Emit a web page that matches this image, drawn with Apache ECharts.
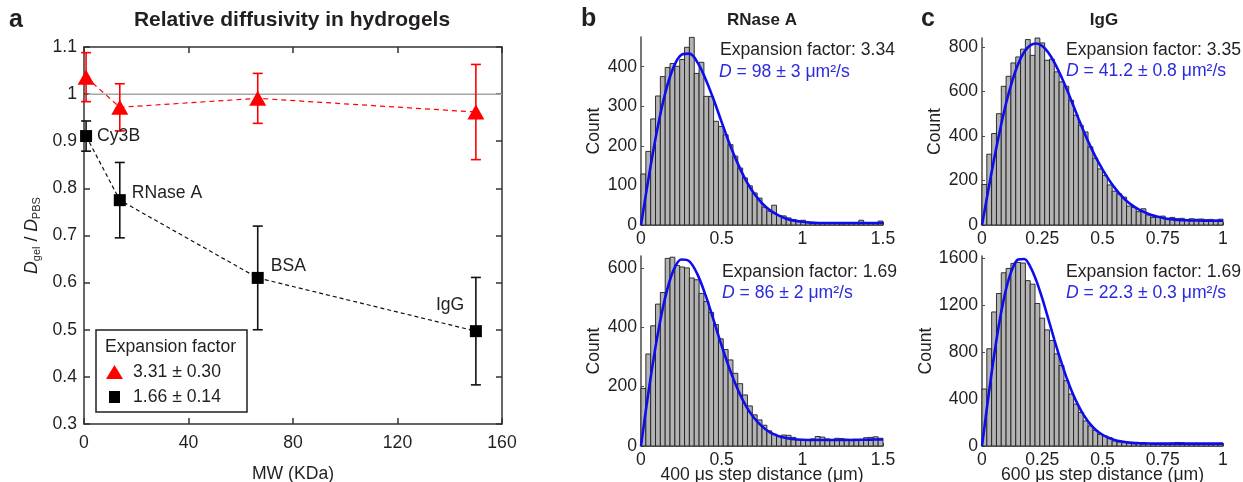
<!DOCTYPE html>
<html>
<head>
<meta charset="utf-8">
<script src="https://cdn.jsdelivr.net/npm/echarts@6/dist/echarts.min.js"></script>
<style>
  html, body { margin: 0; padding: 0; background: #fff; }
  #chart { width: 1243px; height: 482px; }
</style>
</head>
<body>
<div id="chart"></div>
<script>
// ---------- panel a: relative diffusivity vs molecular weight ----------
const probes = ['Cy3B', 'RNase A', 'BSA', 'IgG'];
const molWeight = [0.8, 13.7, 66.5, 150];          // KDa
const ratioHighEF = [1.036, 0.972, 0.991, 0.962];   // expansion factor 3.31
const errHighEF = [0.052, 0.050, 0.053, 0.101];
const ratioLowEF = [0.911, 0.775, 0.610, 0.497];    // expansion factor 1.66
const errLowEF = [0.032, 0.080, 0.110, 0.114];
const legendNames = ['3.31 ± 0.30', '1.66 ± 0.14'];
const unityLine = [[1.5, 1], [160, 1]];
const aXTicks = [0, 40, 80, 120, 160];
const aYTicks = [0.3, 0.4, 0.5, 0.6, 0.7, 0.8, 0.9, 1, 1.1];

// ---------- panels b, c: step-distance histograms ----------
const bBinWidth = 0.03;   // µm
const cBinWidth = 0.02;   // µm
const bTopCounts = [129,186,268,326,375,398,408,401,418,449,474,383,411,325,325,262,249,228,203,174,
                    144,119,99,81,68,45,35,50,24,23,18,14,10,12,7,5,6,4,5,6,4,3,5,4,5,12,4,5,4,10];
const bBotCounts = [194,310,405,478,517,632,636,608,603,600,566,560,514,487,450,409,361,325,290,245,
                    210,172,135,105,88,70,51,40,32,37,36,29,21,22,22,24,32,30,24,22,26,25,23,22,20,22,28,29,31,26];
const cTopCounts = [182,318,411,500,623,668,728,755,790,833,762,840,818,740,745,688,643,623,560,493,
                    448,418,351,300,252,222,180,152,140,125,85,79,60,73,45,34,34,40,30,34,28,30,25,28,26,27,24,25,22,26];
const cBotCounts = [486,829,1143,1300,1477,1514,1557,1565,1560,1410,1380,1215,1090,990,900,786,686,557,443,357,
                    286,214,171,134,100,86,71,43,34,29,24,20,26,18,20,16,18,22,14,24,30,28,16,14,12,16,14,12,20,18];

// fitted step-distance distributions
const bFitR = [0,0.05,0.1,0.15,0.2,0.25,0.3,0.35,0.4,0.45,0.5,0.55,0.6,0.65,0.7,0.75,0.8,0.85,0.9,0.95,
               1,1.05,1.1,1.15,1.2,1.25,1.3,1.35,1.4,1.45,1.5];
const bTopFit = [0,126,240,333,397,430,433,411,369,317,260,204,155,113,80,55,37,25,16,11,8,6,5,5,5,5,5,5,5,5,5];
const bBotFit = [0,195,365,500,590,628,622,578,508,424,338,258,190,135,95,66,46,34,27,23,21,20,20,20,20,20,20,21,21,22,22];
const cFitR = [0,0.025,0.05,0.075,0.1,0.125,0.15,0.175,0.2,0.225,0.25,0.275,0.3,0.325,0.35,0.375,0.4,0.425,0.45,0.475,
               0.5,0.525,0.55,0.575,0.6,0.625,0.65,0.675,0.7,0.725,0.75,0.775,0.8,0.825,0.85,0.875,0.9,0.925,0.95,0.975,1];
const cTopFit = [0,150,295,428,547,645,723,777,807,815,804,775,731,676,614,547,479,413,353,298,
                 250,206,168,135,108,87,70,57,46,38,32,27,24,22,21,20,20,19,19,19,19];
const cBotFit = [0,398,769,1089,1339,1506,1590,1595,1530,1412,1258,1085,908,740,587,455,345,255,185,133,
                 96,70,52,40,32,27,24,22,21,20,20,20,20,20,20,20,20,20,20,20,20];

const bXTicks = [0, 0.5, 1, 1.5];
const cXTicks = [0, 0.25, 0.5, 0.75, 1];
const bTopYTicks = [0, 100, 200, 300, 400];
const bBotYTicks = [0, 200, 400, 600];
const cTopYTicks = [0, 200, 400, 600, 800];
const cBotYTicks = [0, 400, 800, 1200, 1600];

const panelTexts = {
  bTop: ['Expansion factor: 3.34', '98 ± 3'],
  bBot: ['Expansion factor: 1.69', '86 ± 2'],
  cTop: ['Expansion factor: 3.35', '41.2 ± 0.8'],
  cBot: ['Expansion factor: 1.69', '22.3 ± 0.3']
};

// ---------- styling ----------
const FONT = '"Liberation Sans", Arial, Helvetica, sans-serif';
const INK = '#231f20';
const RED = '#ff0000';
const BLUE = '#0d0dee';
const TEXT_BLUE = '#2a2ade';
const FS = 17.6;

const chart = echarts.init(document.getElementById('chart'));

const plainNumber = v => String(+v.toFixed(4));

function boxAxis(gridIndex, ticks, isY, position, showLabel, formatter) {
  const ax = {
    type: 'value', gridIndex, position,
    min: ticks[0], max: ticks[ticks.length - 1],
    interval: ticks[1] - ticks[0],
    splitLine: { show: false },
    axisLine: { show: true, onZero: false, lineStyle: { color: '#333', width: 1.5 } },
    axisTick: { show: true, inside: true, length: 6, lineStyle: { color: '#333', width: 1.5 } },
    axisLabel: { show: showLabel, fontSize: FS, color: INK, fontFamily: FONT, margin: isY ? 7 : 10 }
  };
  if (formatter) ax.axisLabel.formatter = formatter;
  return ax;
}

function histXAxis(gridIndex, ticks, name) {
  const ax = {
    type: 'value', gridIndex,
    min: ticks[0], max: ticks[ticks.length - 1], interval: ticks[1] - ticks[0],
    splitLine: { show: false },
    axisLine: { onZero: false, lineStyle: { color: '#4a4a4a', width: 1.5 } },
    axisTick: { show: true, inside: true, length: 3, lineStyle: { color: '#4a4a4a' } },
    axisLabel: { fontSize: FS, color: INK, fontFamily: FONT, margin: 5, formatter: plainNumber }
  };
  if (name) {
    ax.name = name; ax.nameLocation = 'middle'; ax.nameGap = 20; ax.nameMoveOverlap = false;
    ax.nameTextStyle = { fontSize: FS, color: INK, fontFamily: FONT };
  }
  return ax;
}

function histYAxis(gridIndex, ticks, max) {
  return {
    type: 'value', gridIndex, min: 0, max, interval: ticks[1] - ticks[0],
    splitLine: { show: false },
    axisLine: { show: true, lineStyle: { color: '#4a4a4a', width: 1.5 } },
    axisTick: { show: true, inside: true, length: 3, lineStyle: { color: '#4a4a4a' } },
    axisLabel: { fontSize: FS, color: INK, fontFamily: FONT, margin: 4, showMaxLabel: false, formatter: plainNumber },
    name: 'Count', nameLocation: 'middle', nameGap: 38,
    nameTextStyle: { fontSize: FS, color: INK, fontFamily: FONT }
  };
}

function histSeries(counts, width, axisIndex) {
  return {
    type: 'custom', xAxisIndex: axisIndex, yAxisIndex: axisIndex, z: 2,
    data: counts.map((c, i) => [i * width, (i + 1) * width, c]),
    renderItem: (params, api) => {
      const p0 = api.coord([api.value(0), 0]);
      const p1 = api.coord([api.value(1), api.value(2)]);
      return {
        type: 'rect',
        shape: { x: p0[0], y: p1[1], width: p1[0] - p0[0], height: p0[1] - p1[1] },
        style: { fill: '#b3b3b3', stroke: '#1e1e1e', lineWidth: 0.9 }
      };
    }
  };
}

function fitSeries(rs, vals, axisIndex) {
  return {
    type: 'line', xAxisIndex: axisIndex, yAxisIndex: axisIndex, z: 4,
    data: rs.map((r, i) => [r, vals[i]]),
    symbol: 'none', smooth: 0.35, clip: false,
    lineStyle: { color: BLUE, width: 2.6 }
  };
}

function errorSeries(xs, ys, errs, color) {
  return {
    type: 'custom', xAxisIndex: 0, yAxisIndex: 0, z: 2,
    data: xs.map((x, i) => [x, ys[i] - errs[i], ys[i] + errs[i]]),
    renderItem: (params, api) => {
      const top = api.coord([api.value(0), api.value(2)]);
      const bot = api.coord([api.value(0), api.value(1)]);
      const w = 5;
      const st = { stroke: color, lineWidth: 1.6 };
      return {
        type: 'group', children: [
          { type: 'line', shape: { x1: top[0], y1: top[1], x2: bot[0], y2: bot[1] }, style: st },
          { type: 'line', shape: { x1: top[0] - w, y1: top[1], x2: top[0] + w, y2: top[1] }, style: st },
          { type: 'line', shape: { x1: bot[0] - w, y1: bot[1], x2: bot[0] + w, y2: bot[1] }, style: st }
        ]
      };
    }
  };
}

// label placement relative to each square marker
const probeLabelOffset = [[17, 6], [18, -1], [19, -6], [-34, -20]];

function text(x, y, str, extra) {
  return {
    type: 'text', x, y, z: 10,
    style: Object.assign({ text: str, fontSize: FS, fontFamily: FONT, fill: INK, align: 'left', verticalAlign: 'middle' }, extra)
  };
}
function diffText(x, y, val) {
  return text(x, y, '{i|D} = ' + val + ' μm²/s', {
    fill: TEXT_BLUE,
    rich: { i: { fontStyle: 'italic', fontSize: FS, fontFamily: FONT, fill: TEXT_BLUE } }
  });
}

const aYFormatter = v => (Math.abs(v - 1) < 1e-9 ? '1' : v.toFixed(1));

const gridBase = { containLabel: false, outerBoundsMode: 'none' };

const option = {
  animation: false,
  backgroundColor: '#fff',
  textStyle: { fontFamily: FONT },
  grid: [
    Object.assign({ left: 84, top: 47, width: 418, height: 377 }, gridBase),
    Object.assign({ left: 641, top: 37, width: 242, height: 188 }, gridBase),
    Object.assign({ left: 641, top: 256, width: 242, height: 190 }, gridBase),
    Object.assign({ left: 982, top: 38, width: 241, height: 187 }, gridBase),
    Object.assign({ left: 982, top: 256, width: 241, height: 190 }, gridBase)
  ],
  xAxis: [
    Object.assign(boxAxis(0, aXTicks, false, 'bottom', true), {
      name: 'MW (KDa)', nameLocation: 'middle', nameGap: 41, nameMoveOverlap: false,
      nameTextStyle: { fontSize: FS, color: INK, fontFamily: FONT }
    }),
    histXAxis(1, bXTicks),
    histXAxis(2, bXTicks, '400 μs step distance (μm)'),
    histXAxis(3, cXTicks),
    histXAxis(4, cXTicks, '600 μs step distance (μm)'),
    boxAxis(0, aXTicks, false, 'top', false)
  ],
  yAxis: [
    Object.assign(boxAxis(0, aYTicks, true, 'left', true, aYFormatter), {
      interval: 0.1,
      name: '{i|D}{s|gel} / {i|D}{s|PBS}', nameLocation: 'middle', nameGap: 42, nameRotate: 90,
      nameTextStyle: {
        color: INK, fontFamily: FONT, fontSize: FS,
        rich: {
          i: { fontStyle: 'italic', fontSize: FS, lineHeight: 20, color: INK, fontFamily: FONT },
          s: { fontSize: 11, lineHeight: 11, padding: [8, 0, 0, 0], verticalAlign: 'bottom', color: INK, fontFamily: FONT }
        }
      }
    }),
    histYAxis(1, bTopYTicks, 475),
    histYAxis(2, bBotYTicks, 640),
    histYAxis(3, cTopYTicks, 840),
    histYAxis(4, cBotYTicks, 1620),
    Object.assign(boxAxis(0, aYTicks, true, 'right', false), { interval: 0.1 })
  ],
  legend: {
    left: 101, top: 358, orient: 'vertical', itemGap: 7, padding: 5,
    itemWidth: 17, itemHeight: 14, selectedMode: false, z: 6,
    textStyle: { fontSize: FS, color: INK, fontFamily: FONT, padding: [0, 0, 0, 5] },
    data: [
      { name: legendNames[0], icon: 'triangle' },
      { name: legendNames[1], icon: 'path://M0,0M17,14M3,1L14,1L14,13L3,13Z' }
    ]
  },
  series: [
    {
      type: 'line', xAxisIndex: 0, yAxisIndex: 0, z: 1, data: unityLine,
      symbol: 'none', silent: true, lineStyle: { color: '#a6a6a6', width: 1.5 }
    },
    errorSeries(molWeight, ratioHighEF, errHighEF, RED),
    errorSeries(molWeight, ratioLowEF, errLowEF, '#111'),
    {
      name: legendNames[0], type: 'line', xAxisIndex: 0, yAxisIndex: 0, z: 3, clip: false,
      data: molWeight.map((m, i) => [m, ratioHighEF[i]]),
      symbol: 'triangle', symbolSize: [17, 15],
      itemStyle: { color: RED },
      lineStyle: { color: RED, width: 1.2, type: [5, 4] }
    },
    {
      name: legendNames[1], type: 'line', xAxisIndex: 0, yAxisIndex: 0, z: 3, clip: false,
      data: molWeight.map((m, i) => ({
        value: [m, ratioLowEF[i]],
        label: {
          show: true, formatter: probes[i], position: probeLabelOffset[i],
          align: 'left', verticalAlign: 'middle',
          fontSize: FS, color: INK, fontFamily: FONT
        }
      })),
      symbol: 'rect', symbolSize: 12,
      itemStyle: { color: '#000' },
      lineStyle: { color: '#111', width: 1.2, type: [4, 3] }
    },
    histSeries(bTopCounts, bBinWidth, 1),
    histSeries(bBotCounts, bBinWidth, 2),
    histSeries(cTopCounts, cBinWidth, 3),
    histSeries(cBotCounts, cBinWidth, 4),
    fitSeries(bFitR, bTopFit, 1),
    fitSeries(bFitR, bBotFit, 2),
    fitSeries(cFitR, cTopFit, 3),
    fitSeries(cFitR, cBotFit, 4)
  ],
  graphic: [
    { type: 'rect', z: 3, shape: { x: 96, y: 330, width: 151, height: 82 },
      style: { fill: '#fff', stroke: INK, lineWidth: 1.5 } },
    text(105, 347, 'Expansion factor'),
    text(9, 20, 'a', { fontSize: 25, fontWeight: 'bold' }),
    text(581, 19, 'b', { fontSize: 25, fontWeight: 'bold' }),
    text(921, 19, 'c', { fontSize: 25, fontWeight: 'bold' }),
    text(292, 20, 'Relative diffusivity in hydrogels', { fontSize: 21, fontWeight: 'bold', align: 'center' }),
    text(762, 20, 'RNase A', { fontSize: 17, fontWeight: 'bold', align: 'center' }),
    text(1104, 20, 'IgG', { fontSize: 17, fontWeight: 'bold', align: 'center' }),
    text(720, 50, panelTexts.bTop[0]),
    diffText(719, 72, panelTexts.bTop[1]),
    text(722, 272, panelTexts.bBot[0]),
    diffText(722, 293, panelTexts.bBot[1]),
    text(1066, 50, panelTexts.cTop[0]),
    diffText(1066, 71, panelTexts.cTop[1]),
    text(1066, 272, panelTexts.cBot[0]),
    diffText(1066, 293, panelTexts.cBot[1])
  ]
};

chart.setOption(option);
</script>
</body>
</html>
